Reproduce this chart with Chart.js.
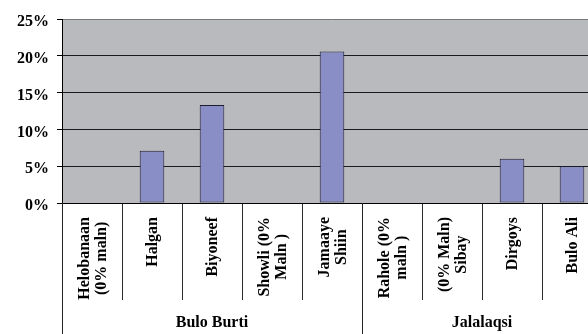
<!DOCTYPE html>
<html>
<head>
<meta charset="utf-8">
<script src="https://cdn.jsdelivr.net/npm/chart.js@4/dist/chart.umd.min.js"></script>
<style>
  html, body { margin: 0; padding: 0; background: #ffffff; overflow: hidden; }
  #wrap { position: relative; width: 602px; height: 334px; }
</style>
</head>
<body>
<div id="wrap"><canvas id="chart"></canvas></div>
<script>
// Village names (one array entry per text line) and their district groups
const categories = [
  ['Helobanaan', '(0% maln)'],
  ['Halgan'],
  ['Biyoneef'],
  ['Showli (0%', 'Maln )'],
  ['Jamaaye', 'Shiin'],
  ['Rahole (0%', 'maln )'],
  ['(0% Maln)', 'Sibay'],
  ['Dirgoys'],
  ['Bulo Ali']
];
const groups = ['Bulo Burti', 'Jalalaqsi'];
const groupSizes = [5, 4];

// Malnutrition rate per village, percent
const values = [0, 7.1, 13.3, 0, 20.6, 0, 0, 6.0, 5.0];

// Y axis ticks, percent
const yTicks = [0, 5, 10, 15, 20, 25];

const LABEL_FONT = 'bold 16px "Liberation Serif", "Times New Roman", serif';

// Draws the rotated village names, district dividers and district names under the x axis
const categoryLabels = {
  id: 'categoryLabels',
  afterDraw(chart) {
    const ctx = chart.ctx;
    const x = chart.scales.x;
    const area = chart.chartArea;
    const half = (x.getPixelForValue(1) - x.getPixelForValue(0)) / 2;
    const lh = 17;
    ctx.save();
    ctx.font = LABEL_FONT;
    ctx.fillStyle = '#000';
    ctx.textBaseline = 'middle';
    ctx.textAlign = 'center';
    categories.forEach((lines, i) => {
      const cx = x.getPixelForValue(i);
      const maxW = Math.max(...lines.map(l => ctx.measureText(l).width));
      const cy = area.bottom + 14 + maxW / 2;
      lines.forEach((line, j) => {
        const off = (j - (lines.length - 1) / 2) * lh;
        ctx.save();
        ctx.translate(cx + off, cy);
        ctx.rotate(-Math.PI / 2);
        ctx.fillText(line, 0, 1);
        ctx.restore();
      });
    });
    // district dividers and names
    ctx.strokeStyle = '#222';
    ctx.lineWidth = 1;
    let start = 0;
    groups.forEach((g, k) => {
      const end = start + groupSizes[k] - 1;
      const left = x.getPixelForValue(start) - half;
      const right = x.getPixelForValue(end) + half;
      ctx.beginPath();
      ctx.moveTo(Math.round(left) + 0.5, area.bottom);
      ctx.lineTo(Math.round(left) + 0.5, chart.height);
      ctx.stroke();
      ctx.fillText(g, (left + right) / 2, area.bottom + 120);
      start = end + 1;
    });
    ctx.restore();
  }
};

new Chart(document.getElementById('chart'), {
  type: 'bar',
  data: {
    labels: categories,
    datasets: [{
      data: values,
      backgroundColor: '#8A8EC7',
      borderColor: '#1c1c30',
      borderWidth: 1,
      borderSkipped: false,
      barPercentage: 0.41,
      categoryPercentage: 1
    }]
  },
  options: {
    responsive: true,
    maintainAspectRatio: false,
    animation: false,
    layout: { padding: { top: 19, right: 0, bottom: 0, left: 0 } },
    plugins: {
      legend: { display: false },
      tooltip: { enabled: false }
    },
    scales: {
      x: {
        offset: true,
        grid: {
          offset: true,
          drawOnChartArea: false,
          drawTicks: true,
          tickLength: 97,
          color: '#2a2a2a',
          lineWidth: 1
        },
        border: { display: true, color: '#000', width: 1 },
        ticks: { display: false },
        afterFit(scale) { scale.height = 131; }
      },
      y: {
        min: 0,
        max: 25,
        afterBuildTicks(scale) { scale.ticks = yTicks.map(v => ({ value: v })); },
        grid: {
          color: ctx => (ctx.tick && ctx.tick.value === 25) ? '#7a7a7a' : '#1a1a1a',
          tickColor: '#000',
          tickLength: 5,
          lineWidth: 1
        },
        border: { display: true, color: '#000', width: 1 },
        ticks: {
          padding: 8,
          labelOffset: 3,
          color: '#000',
          font: { family: '"Liberation Serif", "Times New Roman", serif', size: 16, weight: 'bold' },
          callback: v => v + '%'
        },
        afterFit(scale) { scale.width = 62; }
      }
    }
  },
  plugins: [{
    id: 'plotBackground',
    beforeDraw(chart) {
      const a = chart.chartArea;
      chart.ctx.save();
      chart.ctx.fillStyle = '#B9BABE';
      chart.ctx.fillRect(a.left, a.top, a.right - a.left, a.bottom - a.top);
      chart.ctx.restore();
    }
  }, categoryLabels]
});
</script>
</body>
</html>
